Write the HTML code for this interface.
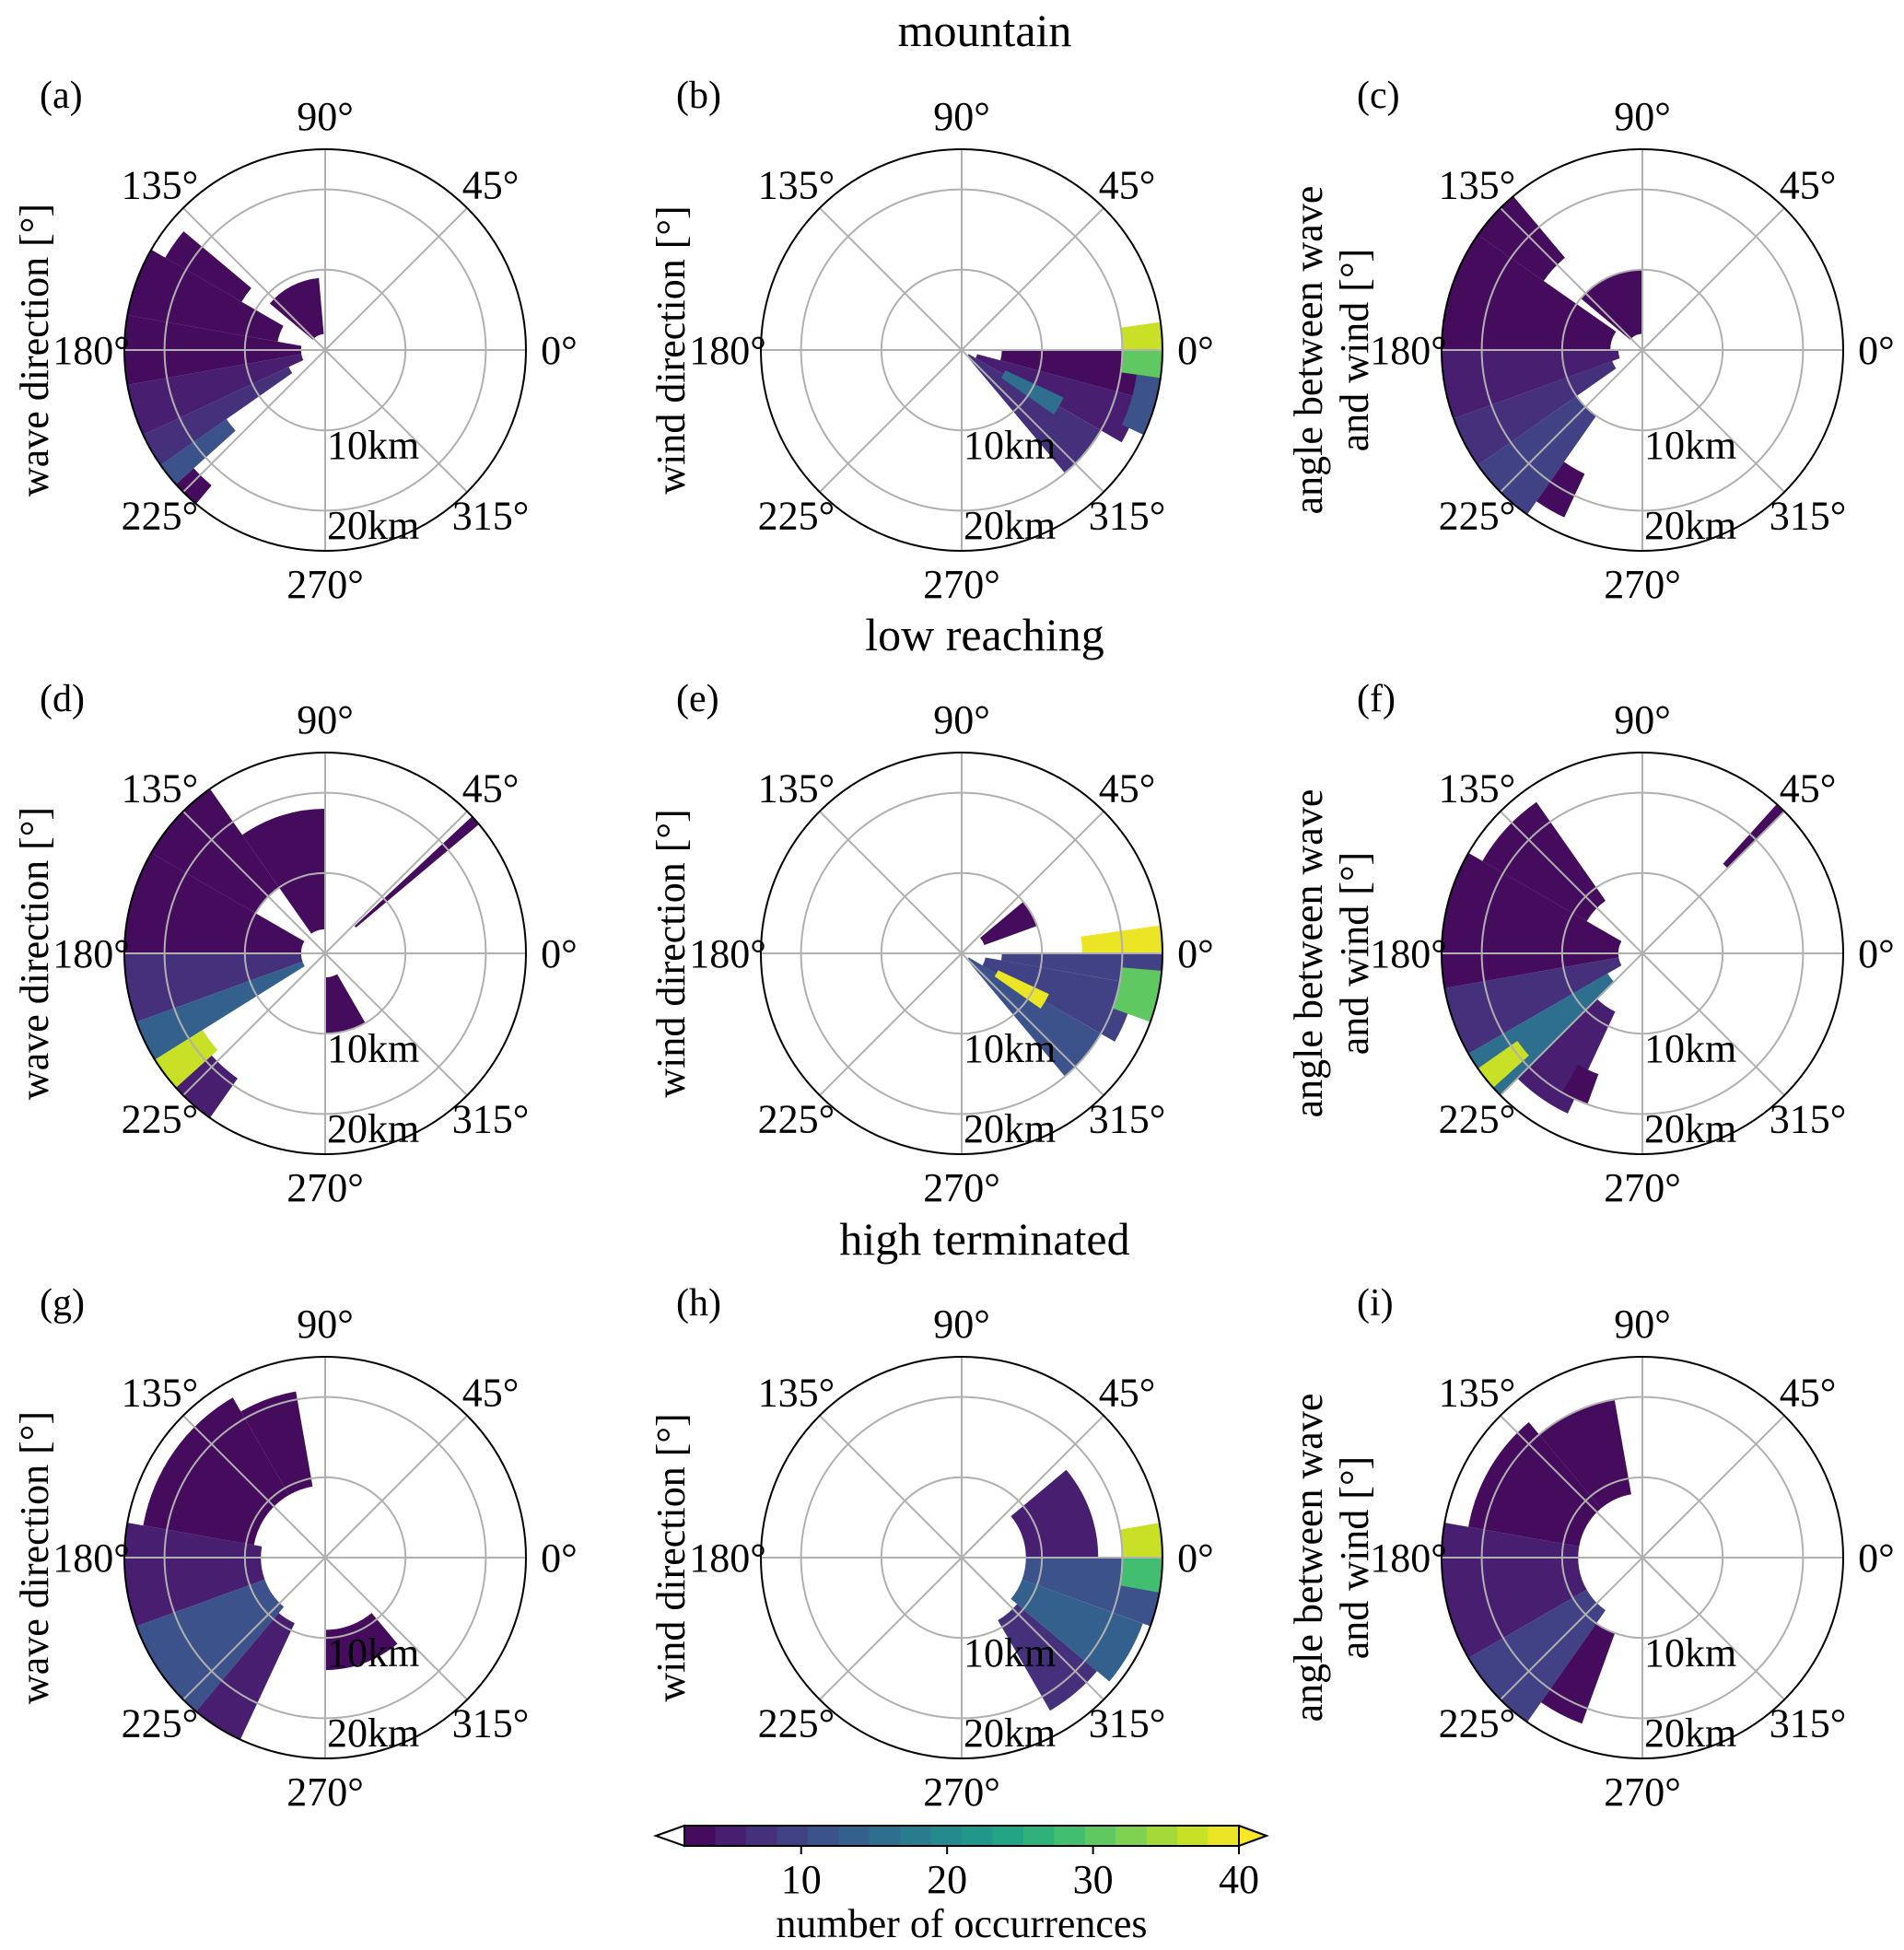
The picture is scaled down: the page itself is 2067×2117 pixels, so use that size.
<!DOCTYPE html>
<html><head><meta charset="utf-8"><style>
html,body{margin:0;padding:0;background:#fff}
svg{display:block;font-family:"Liberation Serif",serif}
</style></head><body>
<svg id="fig" width="2067" height="2117" viewBox="0 0 2067 2117" xmlns="http://www.w3.org/2000/svg">
<text x="1069" y="50" font-size="50" text-anchor="middle">mountain</text>
<text x="1069" y="706" font-size="50" text-anchor="middle">low reaching</text>
<text x="1069" y="1362" font-size="50" text-anchor="middle">high terminated</text>
</svg>
<script>
// cells: [thetaStartDeg, thetaEndDeg, rStartKm, rEndKm, count]
const cellsA = [[95,140,2,9,2],[140,150,12,23,3],[150,170,6,25,3],[170,190,3,25,3],[190,205,3,25,5],[205,215,5,25,7],[215,222,15,25,12],[222,230,22,25,3]];
const cellsB = [[310,330,1,20,7],[330,345,2,23,5],[345,360,5,25,4],[325,335,6,14,16],[335,352,22,25,12],[352,360,20,25,30],[0,8,20,25,36]];
const cellsC = [[90,140,2,10,2],[130,145,15,25,3],[145,180,4,25,3],[180,200,3,25,5],[200,215,4,25,8],[215,235,10,25,10],[235,245,17,23,3]];
const cellsD = [[90,125,3,18,3],[125,150,10,25,3],[150,180,3,25,4],[180,200,3,25,8],[200,212,3,25,13],[212,222,18,25,36],[222,235,19,25,6],[40,43,5,25,3],[270,300,3,10,3]];
const cellsE = [[20,40,3,10,3],[310,330,1,20,12],[330,350,3,22,9],[325,335,5,12,38],[350,360,5,25,10],[340,355,20,25,30],[0,8,15,25,38]];
const cellsF = [[45,48,15,25,3],[125,150,8,23,3],[150,190,3,25,3],[190,210,3,25,7],[210,225,5,25,16],[215,222,19,25,36],[225,245,8,22,6],[240,250,16,20,3]];
const cellsG = [[100,120,9,21,3],[120,170,9,23,3],[170,200,8,25,5],[200,230,8,25,12],[230,245,9,25,5],[270,310,9,14,3]];
const cellsH = [[300,320,9,22,7],[320,340,8,24,14],[340,360,8,25,12],[0,40,8,17,5],[350,360,20,25,28],[0,10,20,25,36]];
const cellsI = [[100,130,8,20,3],[130,170,8,22,3],[170,210,8,25,6],[210,235,8,25,10],[235,250,10,22,4]];
const angleTicks = [0,45,90,135,180,225,270,315];
const radialTicks = [10,20];
const cbarTicks = [10,20,30,40];
const letters = ['(a)','(b)','(c)','(d)','(e)','(f)','(g)','(h)','(i)'];

const NS='http://www.w3.org/2000/svg';
const svg=document.getElementById('fig');
const vir=['#440154','#482475','#414487','#355f8d','#2a788e','#21918c','#22a884','#44bf70','#7ad151','#bddf26','#fde725'];
function hex(h){return [1,3,5].map(i=>parseInt(h.substr(i,2),16));}
function cmap(t){t=Math.max(0,Math.min(1,t));const p=t*10,i=Math.min(9,Math.floor(p)),f=p-i;const a=hex(vir[i]),b=hex(vir[i+1]);return 'rgb('+a.map((v,k)=>Math.round(v+(b[k]-v)*f)).join(',')+')';}
const VMIN=2,VMAX=40,NB=18;
function color(v){const k=Math.min(NB-1,Math.floor((v-VMIN)/(VMAX-VMIN)*NB));return cmap((k+0.5)/NB);}
function mk(tag,at,parent){const e=document.createElementNS(NS,tag);for(const k in at)e.setAttribute(k,at[k]);(parent||svg).appendChild(e);return e;}
const R=218,RMAX=25;
function rs(r){return r/RMAX*R;}
function pt(cx,cy,th,r){const a=th*Math.PI/180;return [cx+rs(r)*Math.cos(a),cy-rs(r)*Math.sin(a)];}

const panels=[
 {cx:353,cy:380,cells:cellsA,lab:['wave direction [°]']},
 {cx:1044,cy:380,cells:cellsB,lab:['wind direction [°]']},
 {cx:1783,cy:380,cells:cellsC,lab:['angle between wave','and wind  [°]']},
 {cx:353,cy:1035,cells:cellsD,lab:['wave direction [°]']},
 {cx:1044,cy:1035,cells:cellsE,lab:['wind direction [°]']},
 {cx:1783,cy:1035,cells:cellsF,lab:['angle between wave','and wind  [°]']},
 {cx:353,cy:1691,cells:cellsG,lab:['wave direction [°]']},
 {cx:1044,cy:1691,cells:cellsH,lab:['wind direction [°]']},
 {cx:1783,cy:1691,cells:cellsI,lab:['angle between wave','and wind  [°]']}
];
panels.forEach((p,pi)=>{
 const g=mk('g',{});
 
 
 p.cells.forEach(c=>{
  const [t0,t1,r0,r1,v]=c;
  const a=pt(p.cx,p.cy,t0,r0),b=pt(p.cx,p.cy,t0,r1),d=pt(p.cx,p.cy,t1,r1),e=pt(p.cx,p.cy,t1,r0);
  const lg=(t1-t0)>180?1:0;
  const path=mk('path',{d:`M${a}L${b}A${rs(r1)},${rs(r1)} 0 ${lg} 0 ${d}L${e}A${rs(r0)},${rs(r0)} 0 ${lg} 1 ${a}Z`,fill:color(v)},g);
  
  
 });
 angleTicks.forEach(t=>{
  const q=pt(p.cx,p.cy,t,RMAX);
  const l=mk('line',{x1:p.cx,y1:p.cy,x2:q[0],y2:q[1],stroke:'#b0b0b0','stroke-width':2},g);
  
  
  const s=pt(p.cx,p.cy,t,RMAX*1.165);
  const tx=mk('text',{x:s[0],y:s[1]+15,'font-size':44,'text-anchor':'middle'},g);
  tx.textContent=t+'°';
  
  
 });
 radialTicks.forEach(r=>{
  const c=mk('circle',{cx:p.cx,cy:p.cy,r:rs(r),fill:'none',stroke:'#b0b0b0','stroke-width':2},g);
  
  
  const tx=mk('text',{x:p.cx+2,y:p.cy+(r===10?118:205),'font-size':44},g);
  tx.textContent=r+'km';
  
  
 });
 const o=mk('circle',{cx:p.cx,cy:p.cy,r:R,fill:'none',stroke:'#000','stroke-width':2},g);
 
 
 const lt=mk('text',{x:p.cx-310,y:p.cy-263,'font-size':42},g);
 lt.textContent=letters[pi];
 
 
 const n=p.lab.length;
 p.lab.forEach((s,li)=>{
  const x=p.cx-(n===1?301:(li===0?348:298));
  const yl=mk('text',{x:x,y:p.cy,'font-size':44,'text-anchor':'middle',transform:`rotate(-90 ${x} ${p.cy})`},g);
  yl.textContent=s;
  
  
 });
});
// colorbar
const cb=mk('g',{});


const X0=743,X1=1345,Y0=1982,Y1=2004;
function cx(v){return X0+(v-VMIN)/(VMAX-VMIN)*(X1-X0);}
for(let k=0;k<NB;k++){
 const v0=VMIN+k*(VMAX-VMIN)/NB,v1=VMIN+(k+1)*(VMAX-VMIN)/NB;
 const r=mk('rect',{x:cx(v0),y:Y0,width:cx(v1)-cx(v0)+0.5,height:Y1-Y0,fill:cmap((k+0.5)/NB)},cb);
 
 
}
const tri=mk('polygon',{points:`${X1},${Y0} 1375,${(Y0+Y1)/2} ${X1},${Y1}`,fill:cmap(1),stroke:'#000','stroke-width':2},cb);


const tri2=mk('polygon',{points:`${X0},${Y0} 712,${(Y0+Y1)/2} ${X0},${Y1}`,fill:'#fff',stroke:'#000','stroke-width':2},cb);


const fr=mk('rect',{x:X0,y:Y0,width:X1-X0,height:Y1-Y0,fill:'none',stroke:'#000','stroke-width':2},cb);


cbarTicks.forEach(v=>{
 const l=mk('line',{x1:cx(v),y1:Y1,x2:cx(v),y2:Y1+9,stroke:'#000','stroke-width':2},cb);
 
 
 const t=mk('text',{x:cx(v),y:2055,'font-size':44,'text-anchor':'middle'},cb);
 t.textContent=v;
 
 
});
const ct=mk('text',{x:1044,y:2103,'font-size':44,'text-anchor':'middle'},cb);
ct.textContent='number of occurrences';


</script>
</body></html>
